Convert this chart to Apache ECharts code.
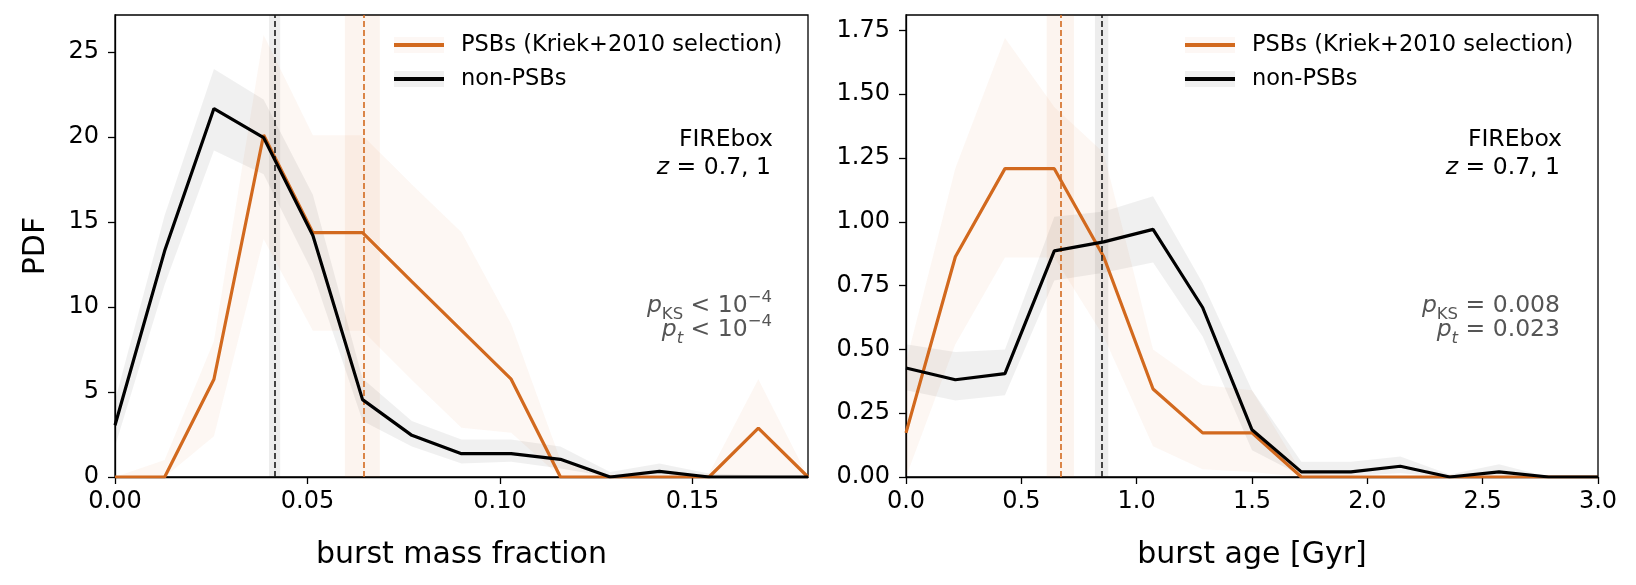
<!DOCTYPE html>
<html>
<head>
<meta charset="utf-8">
<script src="https://cdn.jsdelivr.net/npm/echarts@6/dist/echarts.min.js"></script>
<style>
html, body { margin: 0; padding: 0; background: #fff; }
#chart { width: 1636px; height: 585px; }
</style>
</head>
<body>
<div id="chart"></div>
<script>
// left panel: burst mass fraction
const massX = [0, 0.0129, 0.0257, 0.0386, 0.0514, 0.0643, 0.0771, 0.0900, 0.1029, 0.1157, 0.1286, 0.1414, 0.1543, 0.1671, 0.18];
const massPSB = [0, 0, 5.75, 20.11, 14.37, 14.37, 11.49, 8.62, 5.75, 0, 0, 0, 0, 2.87, 0];
const massPSBLo = [0, 0, 2.4, 14.0, 8.6, 8.6, 5.7, 2.9, 2.6, 0, 0, 0, 0, 0, 0];
const massPSBHi = [0, 1.0, 8.0, 26.0, 20.1, 20.1, 17.2, 14.4, 9.0, 1.0, 0, 0, 0.2, 5.75, 0];
const massNon = [3.04, 13.3, 21.67, 19.96, 14.2, 4.55, 2.45, 1.37, 1.37, 1.04, 0, 0.33, 0, 0, 0];
const massNonLo = [1.8, 11.3, 19.2, 17.8, 12.0, 3.3, 1.8, 0.8, 0.9, 0.5, 0, 0.1, 0, 0, 0];
const massNonHi = [4.5, 15.4, 24.0, 22.2, 16.6, 5.8, 3.3, 2.2, 2.2, 1.8, 0.3, 0.8, 0.2, 0.1, 0];
const massMedPSB = [0.0597, 0.0645, 0.0688];   // lo, median, hi
const massMedNon = [0.0400, 0.0416, 0.0429];
const massTicks = [0, 0.05, 0.10, 0.15];
const massYTicks = [0, 5, 10, 15, 20, 25];

// right panel: burst age
const ageX = [0, 0.214, 0.429, 0.643, 0.857, 1.071, 1.286, 1.5, 1.714, 1.929, 2.143, 2.357, 2.571, 2.786, 3.0];
const agePSB = [0.173, 0.863, 1.208, 1.208, 0.863, 0.345, 0.173, 0.173, 0, 0, 0, 0, 0, 0, 0];
const agePSBLo = [0, 0.52, 0.86, 0.86, 0.55, 0.12, 0.03, 0.02, 0, 0, 0, 0, 0, 0, 0];
const agePSBHi = [0.45, 1.21, 1.72, 1.45, 1.27, 0.50, 0.36, 0.34, 0.02, 0, 0, 0, 0, 0, 0];
const ageNon = [0.427, 0.381, 0.405, 0.886, 0.921, 0.970, 0.664, 0.185, 0.02, 0.02, 0.042, 0, 0.02, 0, 0];
const ageNonLo = [0.34, 0.30, 0.32, 0.77, 0.80, 0.84, 0.55, 0.105, 0.005, 0.005, 0.015, 0, 0.005, 0, 0];
const ageNonHi = [0.52, 0.49, 0.50, 1.02, 1.04, 1.10, 0.76, 0.34, 0.06, 0.06, 0.08, 0.01, 0.05, 0, 0];
const ageMedPSB = [0.610, 0.669, 0.728];
const ageMedNon = [0.819, 0.850, 0.877];
const ageTicks = [0, 0.5, 1.0, 1.5, 2.0, 2.5, 3.0];
const ageYTicks = [0, 0.25, 0.5, 0.75, 1.0, 1.25, 1.5, 1.75];

const PSB_NAME = 'PSBs (Kriek+2010 selection)';
const NON_NAME = 'non-PSBs';
const ORANGE = '#d2691e';
const FONT = 'DejaVu Sans';

const pairs = (xs, ys) => xs.map((x, i) => [x, ys[i]]);
const triples = (xs, lo, hi) => xs.map((x, i) => [x, lo[i], hi[i]]);

function xAxisOf(idx, max, ticks, digits, name) {
  return {
    type: 'value', gridIndex: idx, min: 0, max: max,
    name: name, nameLocation: 'middle', nameGap: 63,
    nameTextStyle: {fontSize: 30, fontFamily: FONT, color: '#000'},
    axisLine: {show: true, onZero: false, lineStyle: {color: '#000', width: 1.3}},
    axisTick: {show: true, length: 7, lineStyle: {color: '#000', width: 1.3}, customValues: ticks},
    axisLabel: {fontSize: 24, fontFamily: FONT, color: '#000', margin: 13, customValues: ticks,
      formatter: v => v.toFixed(digits)},
    splitLine: {show: false}
  };
}

function yAxisOf(idx, max, ticks, digits, name) {
  return {
    type: 'value', gridIndex: idx, min: 0, max: max,
    name: name, nameLocation: 'middle', nameGap: 64, nameRotate: 90,
    nameTextStyle: {fontSize: 30, fontFamily: FONT, color: '#000'},
    axisLine: {show: true, onZero: false, lineStyle: {color: '#000', width: 1.3}},
    axisTick: {show: true, length: 7, lineStyle: {color: '#000', width: 1.3}, customValues: ticks},
    axisLabel: {fontSize: 24, fontFamily: FONT, color: '#000', margin: 16, customValues: ticks,
      formatter: v => v.toFixed(digits)},
    splitLine: {show: false}
  };
}

// filled band between lower and upper curves, drawn as one polygon
function bandSeries(idx, xs, lo, hi, fill) {
  return {
    type: 'custom', xAxisIndex: idx, yAxisIndex: idx, silent: true, z: 2,
    data: triples(xs, lo, hi),
    encode: {x: 0, y: [1, 2]},
    renderItem: (params, api) => {
      if (params.dataIndexInside !== 0) return null;
      const top = [], bot = [];
      for (let i = 0; i < xs.length; i++) {
        top.push(api.coord([api.value(0, i), api.value(2, i)]));
        bot.push(api.coord([api.value(0, i), api.value(1, i)]));
      }
      return {type: 'polygon', shape: {points: top.concat(bot.reverse())}, style: {fill: fill}};
    }
  };
}

function panelSeries(idx, xs, psb, psbLo, psbHi, non, nonLo, nonHi, medPSB, medNon) {
  const base = {type: 'line', xAxisIndex: idx, yAxisIndex: idx, symbol: 'none', silent: true};
  return [
    bandSeries(idx, xs, psbLo, psbHi, 'rgba(210,105,30,0.055)'),
    bandSeries(idx, xs, nonLo, nonHi, 'rgba(0,0,0,0.06)'),
    Object.assign({}, base, {
      name: PSB_NAME, color: ORANGE, data: pairs(xs, psb), z: 4,
      lineStyle: {color: ORANGE, width: 3.2},
      markArea: {silent: true, itemStyle: {color: 'rgba(210,105,30,0.07)'},
        data: [[{xAxis: medPSB[0]}, {xAxis: medPSB[2]}]]},
      markLine: {silent: true, precision: 5, symbol: ['none', 'none'], label: {show: false},
        lineStyle: {color: ORANGE, type: [6, 3], width: 1.6},
        data: [{xAxis: medPSB[1]}]}
    }),
    Object.assign({}, base, {
      name: NON_NAME, color: '#000', data: pairs(xs, non), z: 5,
      lineStyle: {color: '#000', width: 3.2},
      markArea: {silent: true, itemStyle: {color: 'rgba(0,0,0,0.07)'},
        data: [[{xAxis: medNon[0]}, {xAxis: medNon[2]}]]},
      markLine: {silent: true, precision: 5, symbol: ['none', 'none'], label: {show: false},
        lineStyle: {color: '#1a1a1a', type: [6, 3], width: 1.6},
        data: [{xAxis: medNon[1]}]}
    })
  ];
}

function legendAt(left) {
  return {
    left: left, top: 32, orient: 'vertical', padding: 0, icon: 'rect',
    itemWidth: 50, itemHeight: 4, itemGap: 8, selectedMode: false,
    data: [PSB_NAME, NON_NAME],
    textStyle: {fontSize: 22.5, fontFamily: FONT, color: '#000', lineHeight: 26, padding: [0, 0, 0, 12]}
  };
}

const grey = '#555555';
const richBase = {
  i: {fontStyle: 'italic', fontSize: 23.5, fontFamily: FONT, lineHeight: 34, verticalAlign: 'middle'},
  n: {fontSize: 23.5, fontFamily: FONT, lineHeight: 34, verticalAlign: 'middle'},
  sub: {fontSize: 16.5, fontFamily: FONT, lineHeight: 16, verticalAlign: 'bottom'},
  isub: {fontSize: 16.5, fontStyle: 'italic', fontFamily: FONT, lineHeight: 16, verticalAlign: 'bottom'},
  sup: {fontSize: 16.5, fontFamily: FONT, lineHeight: 16, verticalAlign: 'top'}
};

function textEl(x, y, text, color) {
  return {
    type: 'text', x: x, y: y, z: 10,
    style: {text: text, align: 'right', verticalAlign: 'middle', fontSize: 23.5, fontFamily: FONT,
      fill: color, rich: richBase}
  };
}

function legendPatch(x, y, color) {
  return {type: 'rect', z: 0, shape: {x: x, y: y, width: 50, height: 16}, style: {fill: color}};
}

const chart = echarts.init(document.getElementById('chart'), null, {renderer: 'canvas'});

chart.setOption({
  animation: false,
  backgroundColor: '#fff',
  grid: [
    {left: 115, top: 15, width: 693, height: 462, show: true, borderColor: '#000', borderWidth: 1.3, containLabel: false},
    {left: 906, top: 15, width: 692, height: 462, show: true, borderColor: '#000', borderWidth: 1.3, containLabel: false}
  ],
  xAxis: [
    xAxisOf(0, 0.18, massTicks, 2, 'burst mass fraction'),
    xAxisOf(1, 3.0, ageTicks, 1, 'burst age [Gyr]')
  ],
  yAxis: [
    yAxisOf(0, 27.17, massYTicks, 0, 'PDF'),
    yAxisOf(1, 1.81, ageYTicks, 2, '')
  ],
  legend: [legendAt(394), legendAt(1185)],
  series: [
    ...panelSeries(0, massX, massPSB, massPSBLo, massPSBHi, massNon, massNonLo, massNonHi, massMedPSB, massMedNon),
    ...panelSeries(1, ageX, agePSB, agePSBLo, agePSBHi, ageNon, ageNonLo, ageNonHi, ageMedPSB, ageMedNon)
  ],
  graphic: [
    legendPatch(394, 37, 'rgba(210,105,30,0.05)'),
    legendPatch(394, 71, 'rgba(0,0,0,0.06)'),
    legendPatch(1185, 37, 'rgba(210,105,30,0.05)'),
    legendPatch(1185, 71, 'rgba(0,0,0,0.06)'),
    textEl(773, 140, 'FIREbox', '#000'),
    textEl(771, 168, '{i|z}{n| = 0.7, 1}', '#000'),
    textEl(772, 306, '{i|p}{sub|KS}{n| < 10}{sup|\u22124}', grey),
    textEl(772, 330, '{i|p}{isub|t}{n| < 10}{sup|\u22124}', grey),
    textEl(1562, 140, 'FIREbox', '#000'),
    textEl(1560, 168, '{i|z}{n| = 0.7, 1}', '#000'),
    textEl(1560, 306, '{i|p}{sub|KS}{n| = 0.008}', grey),
    textEl(1560, 330, '{i|p}{isub|t}{n| = 0.023}', grey)
  ]
});
</script>
</body>
</html>
